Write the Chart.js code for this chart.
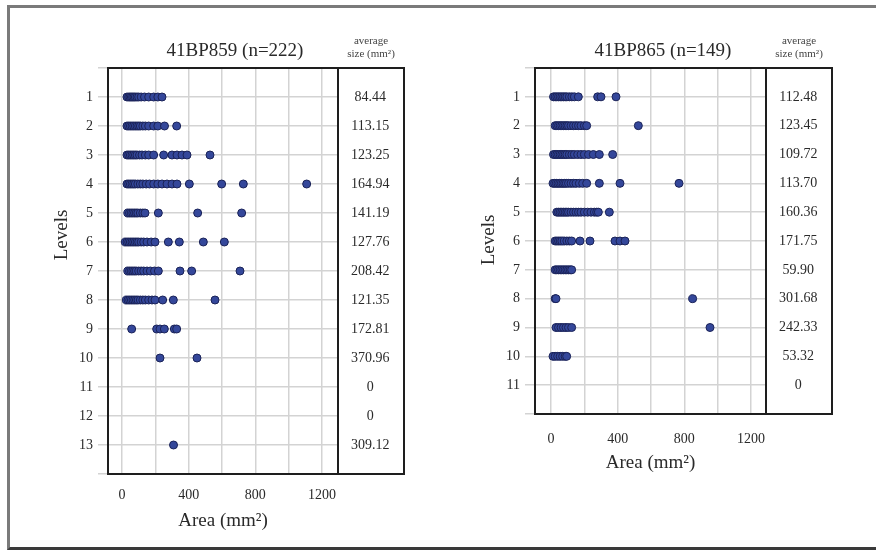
<!DOCTYPE html>
<html>
<head>
<meta charset="utf-8">
<script src="https://cdn.jsdelivr.net/npm/chart.js@4.4.1/dist/chart.umd.min.js"></script>
<style>
  html, body { margin: 0; padding: 0; background: #fff; width: 876px; height: 552px; overflow: hidden; }
  #frame { position: absolute; left: 7px; top: 5px; width: 880px; height: 539px;
           border-left: 3px solid #7a7a7a; border-top: 3px solid #7a7a7a; border-bottom: 3px solid #3a3a3a; }
  canvas { position: absolute; top: 0; }
  #c859 { left: 0; }
  #c865 { left: 438px; }
</style>
</head>
<body>
<div id="frame"></div>
<canvas id="c859" width="438" height="552"></canvas>
<canvas id="c865" width="438" height="552"></canvas>
<script>
// Artifact areas (mm²) per excavation level, one inner array per level (level 1 first)
const site859Title = '41BP859 (n=222)';
const site859Areas = [
  [30, 40, 48, 56, 64, 72, 80, 90, 100, 115, 135, 160, 190, 215, 240],
  [30, 40, 50, 60, 70, 80, 90, 100, 110, 125, 140, 160, 190, 215, 255, 328],
  [30, 40, 50, 60, 70, 80, 90, 105, 120, 140, 160, 190, 250, 300, 330, 360, 390, 528],
  [30, 40, 50, 60, 70, 80, 95, 110, 125, 145, 165, 190, 215, 240, 270, 300, 330, 404, 598, 728, 1108],
  [35, 45, 55, 65, 75, 85, 95, 110, 125, 138, 218, 454, 718],
  [20, 30, 40, 50, 60, 70, 80, 90, 100, 115, 130, 150, 175, 198, 278, 344, 488, 614],
  [35, 45, 55, 65, 75, 85, 100, 115, 130, 150, 170, 195, 218, 348, 418, 708],
  [26, 36, 46, 56, 66, 76, 86, 96, 110, 125, 140, 160, 180, 198, 244, 308, 558],
  [58, 208, 228, 254, 314, 328],
  [228, 450],
  [],
  [],
  [309.12]
];
const site859Averages = ['84.44', '113.15', '123.25', '164.94', '141.19', '127.76', '208.42',
                         '121.35', '172.81', '370.96', '0', '0', '309.12'];

const site865Title = '41BP865 (n=149)';
const site865Areas = [
  [15, 25, 35, 45, 55, 65, 75, 85, 95, 110, 125, 140, 164, 280, 300, 390],
  [25, 35, 45, 55, 65, 75, 85, 95, 105, 120, 135, 150, 165, 180, 200, 214, 524],
  [15, 25, 35, 45, 55, 65, 75, 85, 95, 110, 125, 140, 160, 180, 200, 225, 254, 290, 370],
  [12, 22, 32, 42, 52, 62, 72, 82, 92, 105, 120, 135, 150, 170, 190, 214, 290, 414, 768],
  [35, 45, 55, 65, 75, 85, 95, 105, 120, 135, 150, 165, 180, 200, 220, 240, 260, 274, 284, 350],
  [25, 35, 45, 55, 65, 80, 95, 110, 124, 174, 234, 384, 414, 444],
  [25, 35, 45, 55, 65, 75, 85, 95, 105, 115, 124],
  [25, 30, 850],
  [30, 45, 60, 75, 90, 105, 124, 954],
  [12, 25, 40, 55, 70, 85, 94],
  []
];
const site865Averages = ['112.48', '123.45', '109.72', '113.70', '160.36', '171.75', '59.90',
                         '301.68', '242.33', '53.32', '0'];

// Vertical grid every 200 mm², labelled every 400 mm²
const areaGridValues = [0, 200, 400, 600, 800, 1000, 1200];
const areaTickLabels = [0, 400, 800, 1200];

const SERIF = '"Liberation Serif", "Times New Roman", serif';
const TEXT = '#2a2a2a';
const GRID = '#d3d3d3';

// Boxes around the plot and the average-size column, header and the rotated "Levels" label
const panelDecor = {
  id: 'panelDecor',
  afterDraw(chart, args, opts) {
    const { ctx, chartArea: a } = chart;
    const avgScale = chart.scales.yAvg;
    ctx.save();
    ctx.strokeStyle = '#1e1e1e';
    ctx.lineWidth = 2;
    ctx.strokeRect(a.left, a.top, a.right - a.left, a.bottom - a.top);
    ctx.strokeRect(a.right, a.top, avgScale.right - a.right, a.bottom - a.top);

    const cx = (a.right + avgScale.right) / 2;
    ctx.fillStyle = '#444';
    ctx.font = '11px ' + SERIF;
    ctx.textAlign = 'center';
    ctx.textBaseline = 'middle';
    ctx.fillText('average', cx, opts.headerY[0]);
    ctx.fillText('size (mm²)', cx, opts.headerY[1]);

    ctx.translate(a.left - 46, opts.levelsY);
    ctx.rotate(-Math.PI / 2);
    ctx.fillStyle = TEXT;
    ctx.font = '19px ' + SERIF;
    ctx.fillText('Levels', 0, 0);
    ctx.restore();
  }
};

function makePanel(id, p) {
  const points = [];
  p.areas.forEach((row, i) => row.forEach(v => points.push({ x: v, y: i + 1 })));
  const nLevels = p.areas.length;

  return new Chart(document.getElementById(id), {
    type: 'scatter',
    data: {
      datasets: [{
        data: points,
        pointRadius: 4,
        pointBackgroundColor: '#34479a',
        pointBorderColor: '#1b2358',
        pointBorderWidth: 1
      }]
    },
    options: {
      responsive: false,
      animation: false,
      devicePixelRatio: 1,
      layout: { padding: { left: p.padLeft, right: p.padRight, top: 10, bottom: p.padBottom } },
      plugins: {
        legend: { display: false },
        tooltip: { enabled: false },
        title: {
          display: true,
          text: p.title,
          color: TEXT,
          font: { family: SERIF, size: 19, weight: 'normal' },
          padding: { top: 30, bottom: 5.2 }
        },
        panelDecor: { headerY: [41, 54], levelsY: p.levelsY }
      },
      scales: {
        x: {
          type: 'linear',
          min: p.xMin,
          max: p.xMax,
          afterFit: s => { s.height = p.xAxisHeight; },
          afterBuildTicks: s => { s.ticks = areaGridValues.map(v => ({ value: v })); },
          grid: { color: GRID, lineWidth: 1.5, drawTicks: false },
          border: { display: false },
          ticks: {
            padding: p.xTickPad,
            color: TEXT,
            font: { family: SERIF, size: 14 },
            callback: v => areaTickLabels.includes(v) ? String(v) : ''
          },
          title: {
            display: true,
            text: 'Area (mm²)',
            color: TEXT,
            font: { family: SERIF, size: 19 },
            padding: { top: 0, bottom: 0 }
          }
        },
        y: {
          type: 'linear',
          position: 'left',
          reverse: true,
          min: 0,
          max: nLevels + 1,
          afterFit: s => { s.width = p.yAxisWidth; },
          grid: { color: GRID, lineWidth: 1.5, drawTicks: true, tickLength: 10 },
          border: { display: false },
          ticks: {
            stepSize: 1,
            padding: 5,
            color: TEXT,
            font: { family: SERIF, size: 14 },
            callback: v => (v >= 1 && v <= nLevels) ? String(v) : ''
          }
        },
        yAvg: {
          type: 'linear',
          position: 'right',
          reverse: true,
          min: 0,
          max: nLevels + 1,
          afterFit: s => { s.width = 66; },
          grid: { display: false, drawTicks: false },
          border: { display: false },
          ticks: {
            stepSize: 1,
            padding: 13,
            crossAlign: 'center',
            color: TEXT,
            font: { family: SERIF, size: 14 },
            callback: v => p.averages[v - 1] !== undefined ? p.averages[v - 1] : ''
          }
        }
      }
    },
    plugins: [panelDecor]
  });
}

makePanel('c859', {
  title: site859Title, areas: site859Areas, averages: site859Averages,
  padLeft: 66, padRight: 34, padBottom: 19.6,
  yAxisWidth: 42, xAxisHeight: 58.4, xTickPad: 13,
  xMin: -84, xMax: 1296, levelsY: 235
});

makePanel('c865', {
  title: site865Title, areas: site865Areas, averages: site865Averages,
  padLeft: 56, padRight: 44, padBottom: 77.6,
  yAxisWidth: 41, xAxisHeight: 60.4, xTickPad: 17,
  xMin: -96, xMax: 1290, levelsY: 240
});
</script>
</body>
</html>
